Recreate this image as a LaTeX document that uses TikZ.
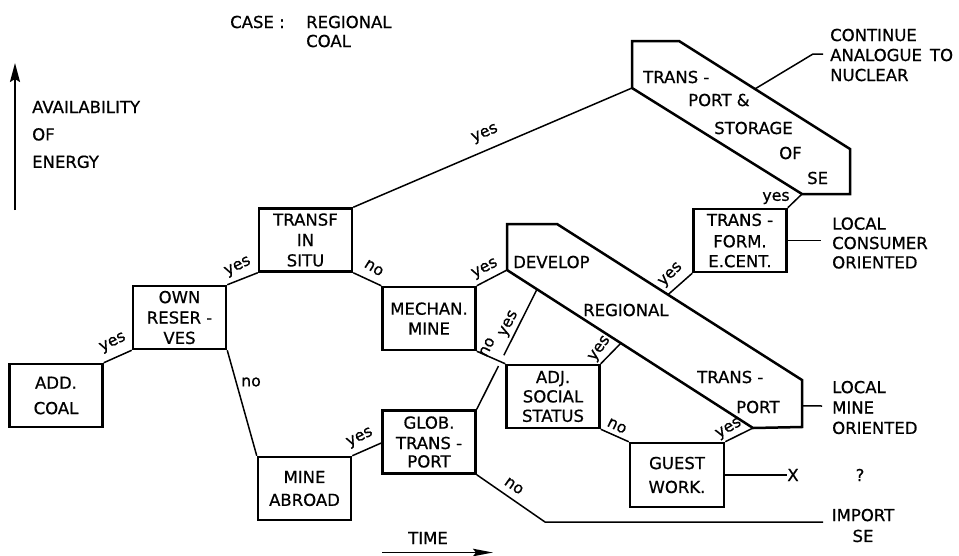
\documentclass[tikz,border=0pt]{standalone}
\usepackage{fontspec}
\setmainfont{DejaVu Sans}[FakeBold=0.7]
\usetikzlibrary{calc,arrows.meta}
\begin{document}
\begin{tikzpicture}[x=1pt,y=-1pt,
  txt/.style={font=\fontsize{16.5}{19.4}\selectfont, inner sep=0pt},
  box/.style={txt, draw, line width=2.5pt, align=center, minimum width=93pt, minimum height=63pt},
  shp/.style={line width=2.5pt, line join=miter},
  conn/.style={line width=1.5pt},
  lbl/.style={font=\fontsize{15.8}{19}\selectfont, inner sep=0pt},
  side/.style={txt, align=left, anchor=west},
]
\path[fill=white, use as bounding box] (0,0) rectangle (959,555);

% title
\node[txt,anchor=west] (case) at (230,22) {CASE :};
\node[txt,anchor=west] (reg) at (306,22) {REGIONAL};
\node[txt,anchor=west] (coal) at (306,41) {COAL};

% axis
\coordinate (ay0) at (15,210);
\coordinate (ay1) at (15,63);
\draw[line width=2pt, -{Stealth[length=19pt,width=10pt,inset=3pt]}] (ay0) -- (ay1);
\node[side] (ax) at (32,134.5) {AVAILABILITY\\[8pt]OF\\[8pt]ENERGY};

\coordinate (tx0) at (382,552.5);
\coordinate (tx1) at (493,552.5);
\draw[line width=1.8pt, -{Stealth[length=20pt,width=7.5pt,inset=3pt]}] (tx0) -- (tx1);
\node[txt] (time) at (428,538) {TIME};

% boxes
\node[box] (add) at (56,395.5) {ADD.\\[6pt]COAL};
\node[box] (own) at (179.5,317.5) {OWN\\[1pt]RESER -\\[1pt]VES};
\node[box] (transf) at (305.5,240) {TRANSF\\[1pt]IN\\[1pt]SITU};
\node[box] (mech) at (429,318.5) {MECHAN.\\[0.5pt]MINE};
\node[box] (mine) at (304.5,488.5) {MINE\\[3.5pt]ABROAD};
\node[box] (glob) at (429,442) {GLOB.\\[1pt]TRANS -\\[-1pt]PORT};
\node[box] (adj) at (553,396.5) {ADJ.\\[0pt]SOCIAL\\[0pt]STATUS};
\node[box, minimum width=94pt, minimum height=64pt] (guest) at (677,475) {GUEST\\[4.5pt]WORK.};
\node[box] (tform) at (740,240.5) {TRANS -\\[2pt]FORM.\\[0.5pt]E.CENT.};

% transport & storage shape
\coordinate (A) at (632,41);
\coordinate (B) at (679,41);
\coordinate (C) at (850,149);
\coordinate (D) at (850,194);
\coordinate (E) at (802,194);
\coordinate (F) at (632,88);
\draw[shp] (A) -- (B) -- (C) -- (D) -- (E) -- (F) -- cycle;
\node[txt,anchor=west] (t1) at (643,77) {TRANS -};
\node[txt,anchor=west] (t2) at (688,100) {PORT \&};
\node[txt,anchor=west] (t3) at (714,128) {STORAGE};
\node[txt,anchor=west] (t4) at (779,153) {OF};
\node[txt,anchor=west] (t5) at (807,178) {SE};

% develop regional transport shape
\coordinate (G) at (507,224);
\coordinate (H) at (557,224);
\coordinate (I) at (802,380);
\coordinate (J) at (802,427);
\coordinate (K) at (753,428);
\coordinate (L) at (507,270);
\draw[shp] (G) -- (H) -- (I) -- (J) -- (K) -- (L) -- cycle;
\node[txt,anchor=west] (d1) at (513,262) {DEVELOP};
\node[txt,anchor=west] (d2) at (583,310) {REGIONAL};
\node[txt,anchor=west] (d3) at (697,377) {TRANS -};
\node[txt,anchor=west] (d4) at (736,407) {PORT};

% side texts
\node[side] (cont) at (830,55) {CONTINUE\\[0.6pt]ANALOGUE\hspace{8pt}TO\\[0.6pt]NUCLEAR};
\node[side] (lcc) at (832,243) {LOCAL\\[0pt]CONSUMER\\[0pt]ORIENTED};
\node[side] (lmo) at (832,407.5) {LOCAL\\[1pt]MINE\\[1pt]ORIENTED};
\node[txt, align=center] (imp) at (863,525.5) {IMPORT\\[1.5pt]SE};
\node[txt] (xq) at (793,475) {X};
\node[txt] (qm) at (860,475) {?};

% helper points
\coordinate (dp) at ($(L)!0.122!(K)$);
\coordinate (ap) at ($(L)!0.463!(K)$);
\coordinate (hp) at ($(H)!0.453!(I)$);
\coordinate (bp) at ($(B)!0.444!(C)$);
\coordinate (l1) at (813,54);
\coordinate (l2) at (823,54);
\coordinate (ip) at ($(I)!0.55!(J)$);
\coordinate (m1) at (822,406);
\coordinate (t1e) at (821,240.5);
\coordinate (i1) at (545,522);
\coordinate (i2) at (823,522);

% connectors
\draw[conn] (add.north east) -- (own.south west);
\draw[conn] (own.north east) -- (transf.south west);
\draw[conn] (own.south east) -- (mine.north west);
\draw[conn] (transf.north east) -- (F);
\draw[conn] (transf.south east) -- (mech.north west);
\draw[conn] (mech.north east) -- (L);
\draw[conn] (mech.south east) -- (adj.north west);
\draw[conn] (glob.north east) -- ($(glob.north east)!0.36!(dp)$);
\draw[conn] ($(glob.north east)!0.45!(dp)$) -- (dp);
\draw[conn] (mine.north east) -- (glob.west |- 0,443);
\draw[conn] (adj.north east) -- (ap);
\draw[conn] (adj.south east) -- (guest.north west);
\draw[conn] (guest.north east) -- (K);
\draw[conn] (guest.east) -- (xq.west);
\draw[conn] (glob.south east) -- (i1) -- (i2);
\draw[conn] (E) -- (tform.north east);
\draw[conn] (tform.south west) -- (hp);
\draw[conn] (tform.east) -- (t1e);
\draw[conn] (bp) -- (l1) -- (l2);
\draw[conn] (ip) -- (m1);

% labels
\node[lbl, rotate=26] (y1) at (113,343) {yes};
\node[lbl, rotate=26] (y2) at (238,267) {yes};
\node[lbl] (n3) at (251,382) {no};
\node[lbl, rotate=23] (y4) at (485,134) {yes};
\node[lbl, rotate=-32] (n5) at (374,268) {no};
\node[lbl, rotate=27] (y6) at (485,269) {yes};
\node[lbl, rotate=63] (n7) at (487,347) {no};
\node[lbl, rotate=63] (y8) at (509,324) {yes};
\node[lbl, rotate=54] (y9) at (600,349) {yes};
\node[lbl, rotate=-26] (n10) at (617,426) {no};
\node[lbl, rotate=30] (y11) at (729,429) {yes};
\node[lbl, rotate=-35] (n13) at (514,486) {no};
\node[lbl] (y14) at (776,198) {yes};
\node[lbl, rotate=45] (y15) at (671,275) {yes};
\node[lbl, rotate=26] (y16) at (360,438) {yes};
\end{tikzpicture}
\end{document}
